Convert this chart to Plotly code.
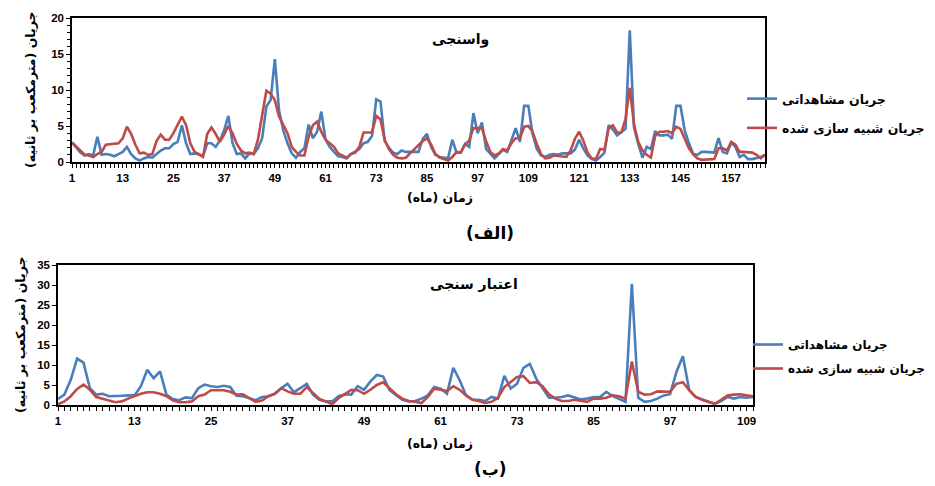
import plotly.graph_objects as go

# ---------- Calibration (واسنجی) : months 1..165 ----------
cal_months = list(range(1, 166))
cal_observed = [
    2.7, 2.0, 1.3, 0.9, 1.1, 0.9, 3.5, 1.0, 1.1, 1.0,
    0.8, 1.1, 1.4, 2.1, 1.1, 0.5, 0.2, 0.5, 0.7, 0.6,
    1.1, 1.6, 1.9, 1.9, 2.5, 2.8, 5.1, 2.6, 1.1, 1.2,
    1.1, 0.8, 2.6, 2.6, 2.1, 3.0, 4.4, 6.4, 2.6, 1.1,
    1.2, 0.5, 1.2, 1.1, 1.9, 3.3, 7.7, 8.6, 14.3, 7.2,
    4.4, 2.6, 1.2, 0.6, 1.4, 1.9, 5.2, 3.3, 4.2, 7.0,
    3.1, 2.1, 1.4, 0.8, 0.7, 0.5, 1.1, 1.4, 1.8, 2.6,
    2.8, 3.6, 8.7, 8.4, 2.9, 2.0, 1.3, 1.1, 1.6, 1.4,
    1.4, 1.5, 1.4, 3.2, 3.9, 2.1, 1.0, 0.7, 0.6, 0.5,
    3.1, 1.3, 1.3, 2.5, 2.1, 6.8, 4.0, 5.5, 1.8, 1.1,
    0.5, 1.1, 1.7, 1.4, 3.2, 4.7, 2.8, 7.8, 7.8, 3.9,
    1.8, 0.9, 0.7, 1.0, 1.1, 1.0, 1.2, 1.2, 1.2, 1.7,
    3.1, 1.9, 0.9, 0.4, 0.2, 0.7, 1.3, 5.1, 4.5, 3.7,
    4.1, 4.6, 18.3, 4.8, 2.5, 0.6, 2.1, 1.8, 4.3, 3.7,
    3.7, 3.8, 3.2, 7.8, 7.8, 4.4, 2.6, 1.1, 1.0, 1.4,
    1.4, 1.4, 1.3, 3.3, 1.4, 1.2, 2.7, 2.1, 0.7, 1.0,
    0.4, 0.4, 0.5, 0.7, 1.0,
]
cal_simulated = [
    2.7, 2.1, 1.6, 1.0, 0.9, 0.7, 1.1, 1.4, 2.4, 2.5,
    2.5, 2.6, 3.3, 4.9, 3.9, 2.4, 1.2, 1.3, 1.0, 1.1,
    2.9, 3.8, 3.1, 3.1, 4.0, 5.1, 6.3, 5.1, 2.6, 1.4,
    1.0, 0.7, 3.9, 4.8, 3.9, 2.8, 3.8, 5.0, 4.0, 2.5,
    1.6, 1.2, 1.3, 1.1, 3.1, 6.3, 9.9, 9.5, 8.6, 6.3,
    5.1, 4.0, 2.1, 1.4, 0.9, 0.9, 3.5, 5.1, 5.6, 4.2,
    3.1, 2.6, 2.1, 1.2, 0.9, 0.6, 1.1, 1.3, 2.1, 4.1,
    4.1, 4.1, 6.4, 5.9, 3.1, 1.8, 1.0, 0.6, 0.5, 0.6,
    1.2, 1.8, 2.3, 2.9, 3.3, 2.4, 1.1, 0.6, 0.4, 0.2,
    0.7, 1.4, 1.3, 2.4, 3.0, 4.7, 4.7, 4.7, 2.9, 1.4,
    0.9, 1.2, 1.8, 1.6, 2.6, 3.3, 3.3, 4.9, 5.0, 4.2,
    2.5, 1.1, 0.5, 0.6, 0.9, 0.8, 0.7, 0.7, 1.6, 3.2,
    4.2, 3.0, 1.3, 0.5, 0.4, 1.8, 1.7, 4.7, 5.1, 4.1,
    4.1, 6.0, 10.3, 5.2, 2.8, 1.6, 1.0, 0.6, 3.6, 4.2,
    4.2, 4.3, 4.0, 4.9, 4.6, 3.3, 1.9, 1.1, 0.5, 0.3,
    0.3, 0.4, 0.4, 1.9, 1.9, 1.6, 2.8, 2.4, 1.4, 1.4,
    1.3, 1.3, 1.0, 0.5, 1.0,
]

# ---------- Validation (اعتبار سنجی) : months 1..110 ----------
val_months = list(range(1, 111))
val_observed = [
    1.5, 2.6, 6.3, 11.6, 10.6, 4.2, 2.6, 2.8, 2.2, 2.2,
    2.3, 2.4, 2.4, 4.7, 8.8, 6.7, 8.4, 2.6, 1.5, 1.2,
    1.9, 1.7, 4.2, 5.1, 4.7, 4.5, 4.8, 4.5, 2.3, 2.2,
    1.7, 1.2, 2.0, 2.2, 2.8, 4.2, 5.3, 3.2, 4.2, 5.3,
    2.6, 1.3, 0.9, 0.9, 2.2, 2.7, 2.6, 4.7, 3.8, 5.9,
    7.5, 7.1, 3.7, 2.4, 1.3, 0.9, 1.0, 1.6, 2.4, 4.5,
    4.1, 2.8, 9.3, 6.2, 2.4, 1.3, 1.3, 1.0, 2.0, 1.6,
    7.3, 4.1, 5.3, 9.3, 10.3, 6.6, 4.1, 1.8, 1.8, 2.0,
    2.4, 1.8, 1.4, 1.6, 2.0, 2.0, 3.3, 2.2, 1.6, 0.8,
    30.3, 1.8, 0.8, 1.0, 1.6, 2.4, 2.7, 8.3, 12.2, 3.7,
    2.0, 1.3, 0.8, 0.3, 1.0, 2.0, 1.6, 2.0, 1.8, 2.0,
]
val_simulated = [
    0.2, 0.9, 2.2, 4.0, 5.1, 3.8, 2.0, 1.5, 1.1, 0.7,
    0.9, 1.6, 2.2, 2.8, 3.2, 3.2, 2.8, 2.2, 1.2, 0.7,
    0.7, 0.9, 2.2, 2.6, 3.7, 3.7, 3.7, 3.3, 2.6, 2.7,
    1.7, 0.8, 1.1, 2.2, 2.8, 4.2, 3.4, 2.8, 2.8, 4.5,
    3.0, 1.5, 0.9, 0.2, 1.7, 2.8, 3.8, 3.7, 2.8, 3.8,
    5.0, 5.7, 4.1, 2.7, 1.6, 1.0, 0.8, 0.5, 2.0, 4.1,
    3.8, 3.5, 4.7, 3.8, 2.4, 1.3, 1.0, 0.5, 0.8, 1.8,
    4.5, 5.7, 7.0, 7.2, 5.5, 5.7, 4.7, 2.7, 1.6, 1.0,
    1.0, 1.3, 1.0, 0.8, 1.6, 1.6, 1.8, 2.4, 2.2, 1.6,
    10.9, 3.3, 2.6, 2.7, 3.4, 3.3, 3.3, 5.3, 5.7, 3.7,
    2.0, 1.3, 0.8, 0.3, 1.3, 2.4, 2.6, 2.7, 2.4, 2.2,
]

cal_ticks = list(range(1, 166, 12))
val_ticks = list(range(1, 111, 12))

name_obs = "جریان مشاهداتی"
name_sim = "جریان شبیه سازی شده"
RLM = "\u200f"

BLUE = "#4a7ebb"
RED = "#be4b48"
FONT = "DejaVu Sans, Liberation Sans, sans-serif"

fig = go.Figure()
fig.add_trace(go.Scatter(x=cal_months, y=cal_observed, mode="lines", name=name_obs,
                         line=dict(color=BLUE, width=2.6), xaxis="x", yaxis="y",
                         legend="legend", legendgroup="a1"))
fig.add_trace(go.Scatter(x=cal_months, y=cal_simulated, mode="lines", name=name_sim,
                         line=dict(color=RED, width=2.6), xaxis="x", yaxis="y",
                         legend="legend", legendgroup="a2"))
fig.add_trace(go.Scatter(x=val_months, y=val_observed, mode="lines", name=name_obs,
                         line=dict(color=BLUE, width=2.6), xaxis="x2", yaxis="y2",
                         legend="legend2", legendgroup="b1"))
fig.add_trace(go.Scatter(x=val_months, y=val_simulated, mode="lines", name=name_sim,
                         line=dict(color=RED, width=2.6), xaxis="x2", yaxis="y2",
                         legend="legend2", legendgroup="b2"))

tickfont = dict(family="Liberation Sans, Arial, sans-serif", size=11.5, color="black", weight="bold")
axis_common = dict(showline=True, linecolor="black", linewidth=1.5, mirror=True,
                   showgrid=False, zeroline=False, ticks="outside", tickcolor="black",
                   ticklen=4, tickfont=tickfont)

fig.update_layout(
    width=935, height=486, autosize=False,
    margin=dict(l=0, r=0, t=0, b=0, autoexpand=False),
    paper_bgcolor="white", plot_bgcolor="white",
    font=dict(family=FONT, color="black"),
    xaxis=dict(domain=[72/935, 765/935], anchor="y", range=[1, 165],
               tickmode="array", tickvals=cal_ticks,
               minor=dict(dtick=1, tick0=1, ticks="outside", ticklen=4, tickcolor="black"),
               **axis_common),
    yaxis=dict(domain=[1-162/486, 1-18/486], anchor="x", range=[0, 20], dtick=5,
               minor=dict(dtick=1, ticks="outside", ticklen=3, tickcolor="black"),
               **axis_common),
    xaxis2=dict(domain=[58/935, 753/935], anchor="y2", range=[1, 110],
                tickmode="array", tickvals=val_ticks,
                minor=dict(dtick=1, tick0=1, ticks="outside", ticklen=4, tickcolor="black"),
                **axis_common),
    yaxis2=dict(domain=[1-405/486, 1-265/486], anchor="x2", range=[0, 35], dtick=5,
                **axis_common),
    legend=dict(x=742/935, y=1-84/486, xanchor="left", yanchor="top",
                font=dict(family=FONT, size=12.5, color="black", weight="bold"),
                bgcolor="rgba(0,0,0,0)", itemwidth=30, tracegroupgap=10),
    legend2=dict(x=748/935, y=1-330/486, xanchor="left", yanchor="top",
                 font=dict(family=FONT, size=12, color="black", weight="bold"),
                 bgcolor="rgba(0,0,0,0)", itemwidth=30, tracegroupgap=5),
    showlegend=True,
)

ann_font = dict(family=FONT, size=14, color="black", weight="bold")
annotations = [
    dict(text="واسنجی", x=460/935, y=1-40/486, font=ann_font),
    dict(text="اعتبار سنجی", x=474/935, y=1-284/486, font=ann_font),
    dict(text="زمان (ماه)" + RLM, x=440/935, y=1-197/486,
         font=dict(family=FONT, size=12.5, color="black", weight="bold")),
    dict(text="زمان (ماه)" + RLM, x=440/935, y=1-443/486,
         font=dict(family=FONT, size=12.5, color="black", weight="bold")),
    dict(text=RLM + "(الف)" + RLM, x=490/935, y=1-233/486,
         font=dict(family=FONT, size=17, color="black", weight="bold")),
    dict(text=RLM + "(ب)" + RLM, x=490/935, y=1-469/486,
         font=dict(family=FONT, size=17, color="black", weight="bold")),
    dict(text="جریان (مترمکعب بر ثانیه)" + RLM, x=31/935, y=1-90/486, textangle=-90,
         font=dict(family=FONT, size=12.5, color="black", weight="bold")),
    dict(text="جریان (مترمکعب بر ثانیه)" + RLM, x=20/935, y=1-335/486, textangle=-90,
         font=dict(family=FONT, size=12.5, color="black", weight="bold")),
]
for a in annotations:
    a.update(xref="paper", yref="paper", showarrow=False, xanchor="center", yanchor="middle")
fig.update_layout(annotations=annotations)

fig.write_html("out.html", config={"displayModeBar": False})

# remove the browser's default page margin so the figure sits at the window's corner
with open("out.html", "r", encoding="utf-8") as f:
    html = f.read()
html = html.replace("<head>", "<head><style>html,body{margin:0;padding:0;overflow:hidden;}</style>", 1)
with open("out.html", "w", encoding="utf-8") as f:
    f.write(html)
